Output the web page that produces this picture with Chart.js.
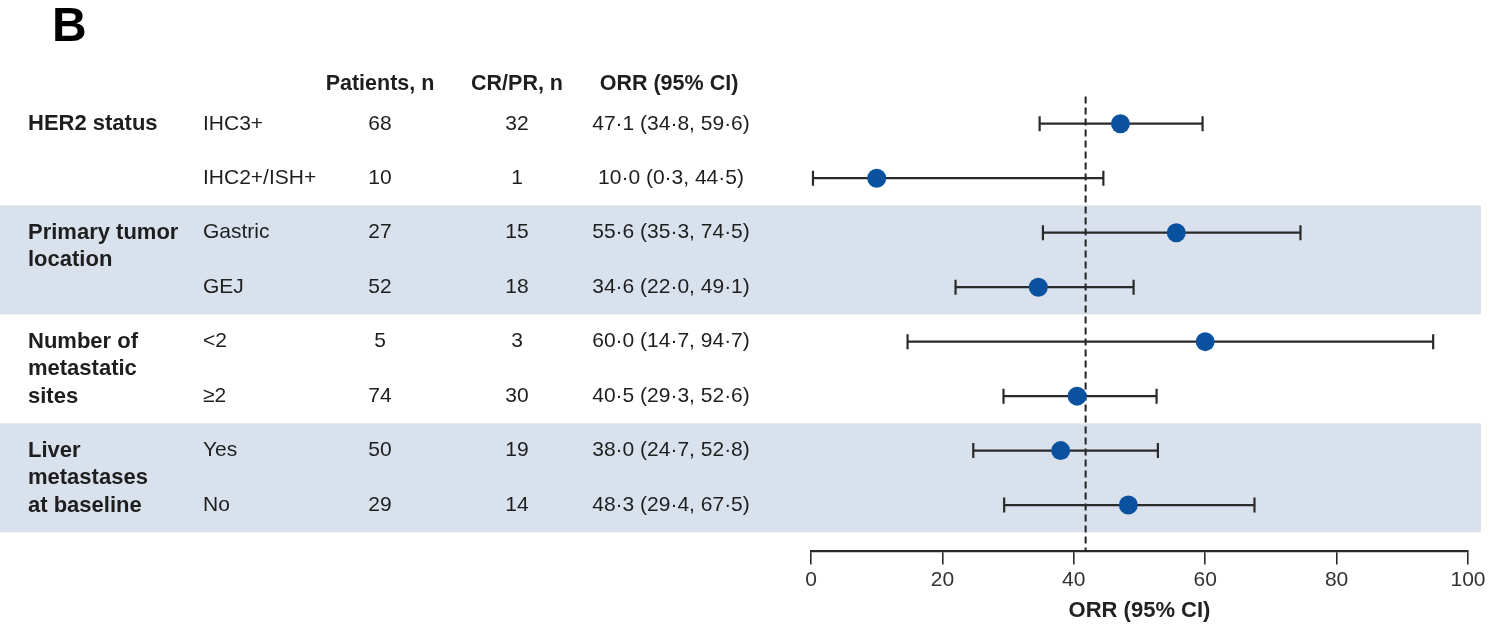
<!DOCTYPE html>
<html>
<head>
<meta charset="utf-8">
<script src="https://cdn.jsdelivr.net/npm/chart.js@4.4.1/dist/chart.umd.min.js"></script>
<style>
  html, body { margin: 0; padding: 0; background: #ffffff; }
  #wrap { position: relative; width: 1500px; height: 629px; }
</style>
</head>
<body>
<div id="wrap"><canvas id="c" width="1500" height="629"></canvas></div>
<script>
// ---------- data ----------
const panelLetter = "B";
const columnHeaders = ["Patients, n", "CR/PR, n", "ORR (95% CI)"];
const groupLabels = [["HER2 status"], ["Primary tumor", "location"], ["Number of", "metastatic", "sites"], ["Liver", "metastases", "at baseline"]];
const groupStartRows = [0, 2, 4, 6];
const subgroups = ["IHC3+", "IHC2+/ISH+", "Gastric", "GEJ", "<2", "≥2", "Yes", "No"];
const patients = [68, 10, 27, 52, 5, 74, 50, 29];
const responders = [32, 1, 15, 18, 3, 30, 19, 14];
const orr = [47.1, 10.0, 55.6, 34.6, 60.0, 40.5, 38.0, 48.3];
const ciLow = [34.8, 0.3, 35.3, 22.0, 14.7, 29.3, 24.7, 29.4];
const ciHigh = [59.6, 44.5, 74.5, 49.1, 94.7, 52.6, 52.8, 67.5];
const overallOrr = 41.8;
const xTickValues = [0, 20, 40, 60, 80, 100];
const xAxisTitle = "ORR (95% CI)";

// ---------- helpers ----------
const fmt = v => v.toFixed(1).replace('.', '·');
const orrText = orr.map((v, i) => `${fmt(v)} (${fmt(ciLow[i])}, ${fmt(ciHigh[i])})`);
const FONT = '"Liberation Sans", Arial, Helvetica, sans-serif';
const TEXT = '#1e1e1e';
const nRows = subgroups.length;

const forestPlugin = {
  id: 'forest',
  beforeDatasetsDraw(chart) {
    const ctx = chart.ctx, xs = chart.scales.x, ys = chart.scales.y, ca = chart.chartArea;
    ctx.save();
    // shaded bands for alternating groups
    ctx.fillStyle = '#d9e1ec';
    groupStartRows.forEach((start, g) => {
      if (g % 2 === 1) {
        const end = g + 1 < groupStartRows.length ? groupStartRows[g + 1] : nRows;
        const top = ys.getPixelForValue(start - 0.5);
        const bot = ys.getPixelForValue(end - 0.5);
        ctx.fillRect(0, top, ca.right + 13, bot - top);
      }
    });
    // reference dashed line
    ctx.strokeStyle = '#222';
    ctx.lineWidth = 2;
    ctx.setLineDash([7, 4]);
    const xr = xs.getPixelForValue(overallOrr);
    ctx.beginPath();
    ctx.moveTo(xr, ys.getPixelForValue(-0.5));
    ctx.lineTo(xr, ca.bottom);
    ctx.stroke();
    ctx.setLineDash([]);
    // CI bars
    ctx.strokeStyle = '#2a2a2a';
    ctx.lineWidth = 2.2;
    for (let i = 0; i < nRows; i++) {
      const y = ys.getPixelForValue(i);
      const x1 = xs.getPixelForValue(ciLow[i]);
      const x2 = xs.getPixelForValue(ciHigh[i]);
      ctx.beginPath();
      ctx.moveTo(x1, y); ctx.lineTo(x2, y);
      ctx.moveTo(x1, y - 7.5); ctx.lineTo(x1, y + 7.5);
      ctx.moveTo(x2, y - 7.5); ctx.lineTo(x2, y + 7.5);
      ctx.stroke();
    }
    // table text
    ctx.fillStyle = TEXT;
    ctx.textBaseline = 'middle';
    const hy = ys.getPixelForValue(-0.72);
    ctx.font = `bold 21.5px ${FONT}`;
    ctx.textAlign = 'center';
    ctx.fillText(columnHeaders[0], 380, hy);
    ctx.fillText(columnHeaders[1], 517, hy);
    ctx.fillText(columnHeaders[2], 669, hy);
    // group labels
    ctx.textAlign = 'left';
    ctx.font = `bold 22px ${FONT}`;
    groupLabels.forEach((lines, g) => {
      lines.forEach((t, k) => {
        ctx.fillText(t, 28, ys.getPixelForValue(groupStartRows[g] + k * 0.505));
      });
    });
    ctx.font = `21px ${FONT}`;
    for (let i = 0; i < nRows; i++) {
      const y = ys.getPixelForValue(i);
      ctx.textAlign = 'left';
      ctx.fillText(subgroups[i], 203, y);
      ctx.textAlign = 'center';
      ctx.fillText(String(patients[i]), 380, y);
      ctx.fillText(String(responders[i]), 517, y);
      ctx.fillText(orrText[i], 671, y);
    }
    // panel letter
    ctx.textAlign = 'left';
    ctx.textBaseline = 'alphabetic';
    ctx.font = `bold 48px ${FONT}`;
    ctx.fillStyle = '#000';
    ctx.fillText(panelLetter, 52, 41);
    ctx.restore();
  }
};

new Chart(document.getElementById('c'), {
  type: 'scatter',
  data: {
    datasets: [{
      data: orr.map((v, i) => ({ x: v, y: i })),
      backgroundColor: '#0a52a0',
      borderColor: '#0a52a0',
      pointRadius: 9.5,
      pointHoverRadius: 9.5,
      borderWidth: 0
    }]
  },
  options: {
    responsive: false,
    animation: false,
    devicePixelRatio: 1,
    layout: { padding: { left: 811, right: 32, top: 42, bottom: 5 } },
    plugins: { legend: { display: false }, tooltip: { enabled: false } },
    scales: {
      x: {
        type: 'linear',
        min: 0, max: 100,
        afterBuildTicks: s => { s.ticks = xTickValues.map(v => ({ value: v })); },
        border: { display: true, color: '#2a2a2a', width: 2.2 },
        grid: { display: true, drawOnChartArea: false, drawTicks: true, tickLength: 13, color: '#2a2a2a', lineWidth: 1.6 },
        ticks: { color: '#333', font: { family: FONT, size: 21 }, padding: 3 },
        title: { display: true, text: xAxisTitle, color: '#222', font: { family: FONT, size: 22, weight: 'bold' }, padding: { top: 2, bottom: 0 } }
      },
      y: {
        type: 'linear',
        display: false,
        reverse: true,
        min: -1.5, max: 7.85
      }
    }
  },
  plugins: [forestPlugin]
});
</script>
</body>
</html>
